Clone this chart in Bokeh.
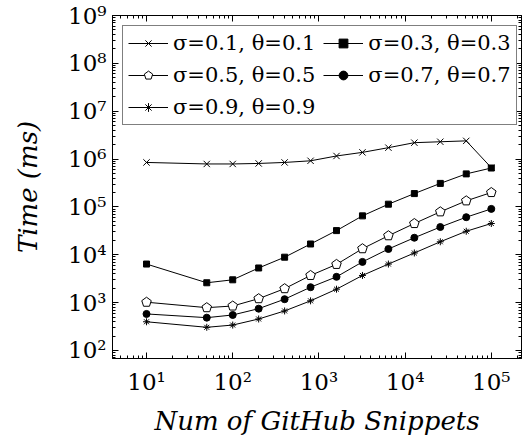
from bokeh.plotting import figure
from bokeh.models import FixedTicker, LogAxis, Legend
from bokeh.embed import file_html
from bokeh.resources import INLINE

snippets = [10, 50, 100, 200, 400, 800, 1600, 3200, 6400, 12800, 25600, 51200, 100000]
t_01 = [8.5e5, 7.9e5, 7.9e5, 8.1e5, 8.5e5, 9.2e5, 1.16e6, 1.38e6, 1.73e6, 2.2e6, 2.3e6, 2.4e6, 6.6e5]
t_03 = [6.4e3, 2.6e3, 3.0e3, 5.3e3, 8.9e3, 1.68e4, 3.2e4, 6.5e4, 1.14e5, 1.9e5, 3.1e5, 4.9e5, 6.5e5]
t_05 = [1.02e3, 785, 850, 1.21e3, 1.96e3, 3.7e3, 6.3e3, 1.34e4, 2.5e4, 4.5e4, 7.9e4, 1.34e5, 2.0e5]
t_07 = [580, 485, 552, 748, 1.18e3, 2.1e3, 3.46e3, 7.1e3, 1.32e4, 2.27e4, 3.8e4, 6.1e4, 9.1e4]
t_09 = [398, 305, 340, 455, 670, 1.09e3, 1.91e3, 3.7e3, 6.4e3, 1.09e4, 1.87e4, 3.1e4, 4.5e4]
labels = ["σ=0.1, θ=0.1", "σ=0.3, θ=0.3", "σ=0.5, θ=0.5", "σ=0.7, θ=0.7", "σ=0.9, θ=0.9"]

x_ticks = [10, 100, 1000, 10000, 100000]
x_tick_labels = ["10¹", "10²", "10³", "10⁴", "10⁵"]
y_ticks = [1e2, 1e3, 1e4, 1e5, 1e6, 1e7, 1e8, 1e9]
y_tick_labels = ["10²", "10³", "10⁴", "10⁵", "10⁶", "10⁷", "10⁸", "10⁹"]

FONT = "DejaVu Serif"

p = figure(width=525, height=440, x_axis_type="log", y_axis_type="log",
           x_range=(4.03, 2.24e5), y_range=(68, 1.0e9),
           output_backend="svg", toolbar_location=None,
           min_border_left=112, min_border_right=4, min_border_top=15, min_border_bottom=82)
p.grid.visible = False
p.outline_line_color = "black"
p.outline_line_width = 1

x_minor = [m * 10 ** k for k in range(0, 6) for m in range(2, 10)]
y_minor = [m * 10 ** k for k in range(1, 10) for m in range(2, 10)]
xt = FixedTicker(ticks=x_ticks, minor_ticks=x_minor)
yt = FixedTicker(ticks=y_ticks, minor_ticks=y_minor)

def style(ax, show_labels):
    ax.major_tick_in = 6
    ax.major_tick_out = 0
    ax.minor_tick_in = 3
    ax.minor_tick_out = 0
    ax.axis_line_color = "black"
    ax.major_tick_line_color = "black"
    ax.minor_tick_line_color = "black"
    ax.major_label_text_font = FONT
    ax.major_label_text_font_size = "23px"
    ax.major_label_text_color = "black"
    if not show_labels:
        ax.major_label_text_alpha = 0
        ax.major_label_text_font_size = "1px"
        ax.major_label_standoff = 0

p.xaxis.ticker = xt
p.yaxis.ticker = yt
p.xaxis.major_label_overrides = dict(zip(x_ticks, x_tick_labels))
p.yaxis.major_label_overrides = dict(zip(y_ticks, y_tick_labels))
style(p.xaxis[0], True)
style(p.yaxis[0], True)
p.xaxis.major_label_standoff = 10
p.yaxis.major_label_standoff = 6

p.xaxis.axis_label = "Num of GitHub Snippets"
p.yaxis.axis_label = "Time (ms)"
for ax in (p.xaxis[0], p.yaxis[0]):
    ax.axis_label_text_font = FONT
    ax.axis_label_text_font_style = "italic"
    ax.axis_label_text_font_size = "26px"
    ax.axis_label_text_color = "black"
p.xaxis.axis_label_standoff = 8
p.yaxis.axis_label_standoff = 22

top = LogAxis(ticker=FixedTicker(ticks=x_ticks, minor_ticks=x_minor))
right = LogAxis(ticker=FixedTicker(ticks=y_ticks, minor_ticks=y_minor))
style(top, False)
style(right, False)
p.add_layout(top, "above")
p.add_layout(right, "right")

r1 = p.line(snippets, t_01, line_color="black", line_width=1)
m1 = p.scatter(snippets, t_01, marker="x", size=9, line_color="black", line_width=1)
r2 = p.line(snippets, t_03, line_color="black", line_width=1)
m2 = p.scatter(snippets, t_03, marker="square", size=6, fill_color="black", line_color="black")
r3 = p.line(snippets, t_05, line_color="black", line_width=1)
m3 = p.ngon(x=snippets, y=t_05, radius=5, radius_units="screen", n=5, angle=0,
            fill_color="white", line_color="black", line_width=1)
r4 = p.line(snippets, t_07, line_color="black", line_width=1)
m4 = p.scatter(snippets, t_07, marker="circle", size=7, fill_color="black", line_color="black")
r5 = p.line(snippets, t_09, line_color="black", line_width=1)
m5 = p.scatter(snippets, t_09, marker="asterisk", size=7, line_color="black", line_width=1)

# column-major filling: col 1 = 0.1, 0.5, 0.9 ; col 2 = 0.3, 0.7
legend = Legend(items=[(labels[0], [r1, m1]), (labels[2], [r3, m3]), (labels[4], [r5, m5]),
                       (labels[1], [r2, m2]), (labels[3], [r4, m4])],
                location="top_left", ncols=2)
legend.label_text_font = FONT
legend.label_text_font_size = "21px"
legend.label_text_color = "black"
legend.border_line_color = "black"
legend.border_line_width = 1
legend.background_fill_alpha = 1
legend.margin = 10
legend.padding = 5
legend.spacing = 8
legend.glyph_width = 40
legend.glyph_height = 22
legend.label_height = 22
legend.label_standoff = 5
p.add_layout(legend)

open("out.html", "w").write(file_html(p, INLINE))
